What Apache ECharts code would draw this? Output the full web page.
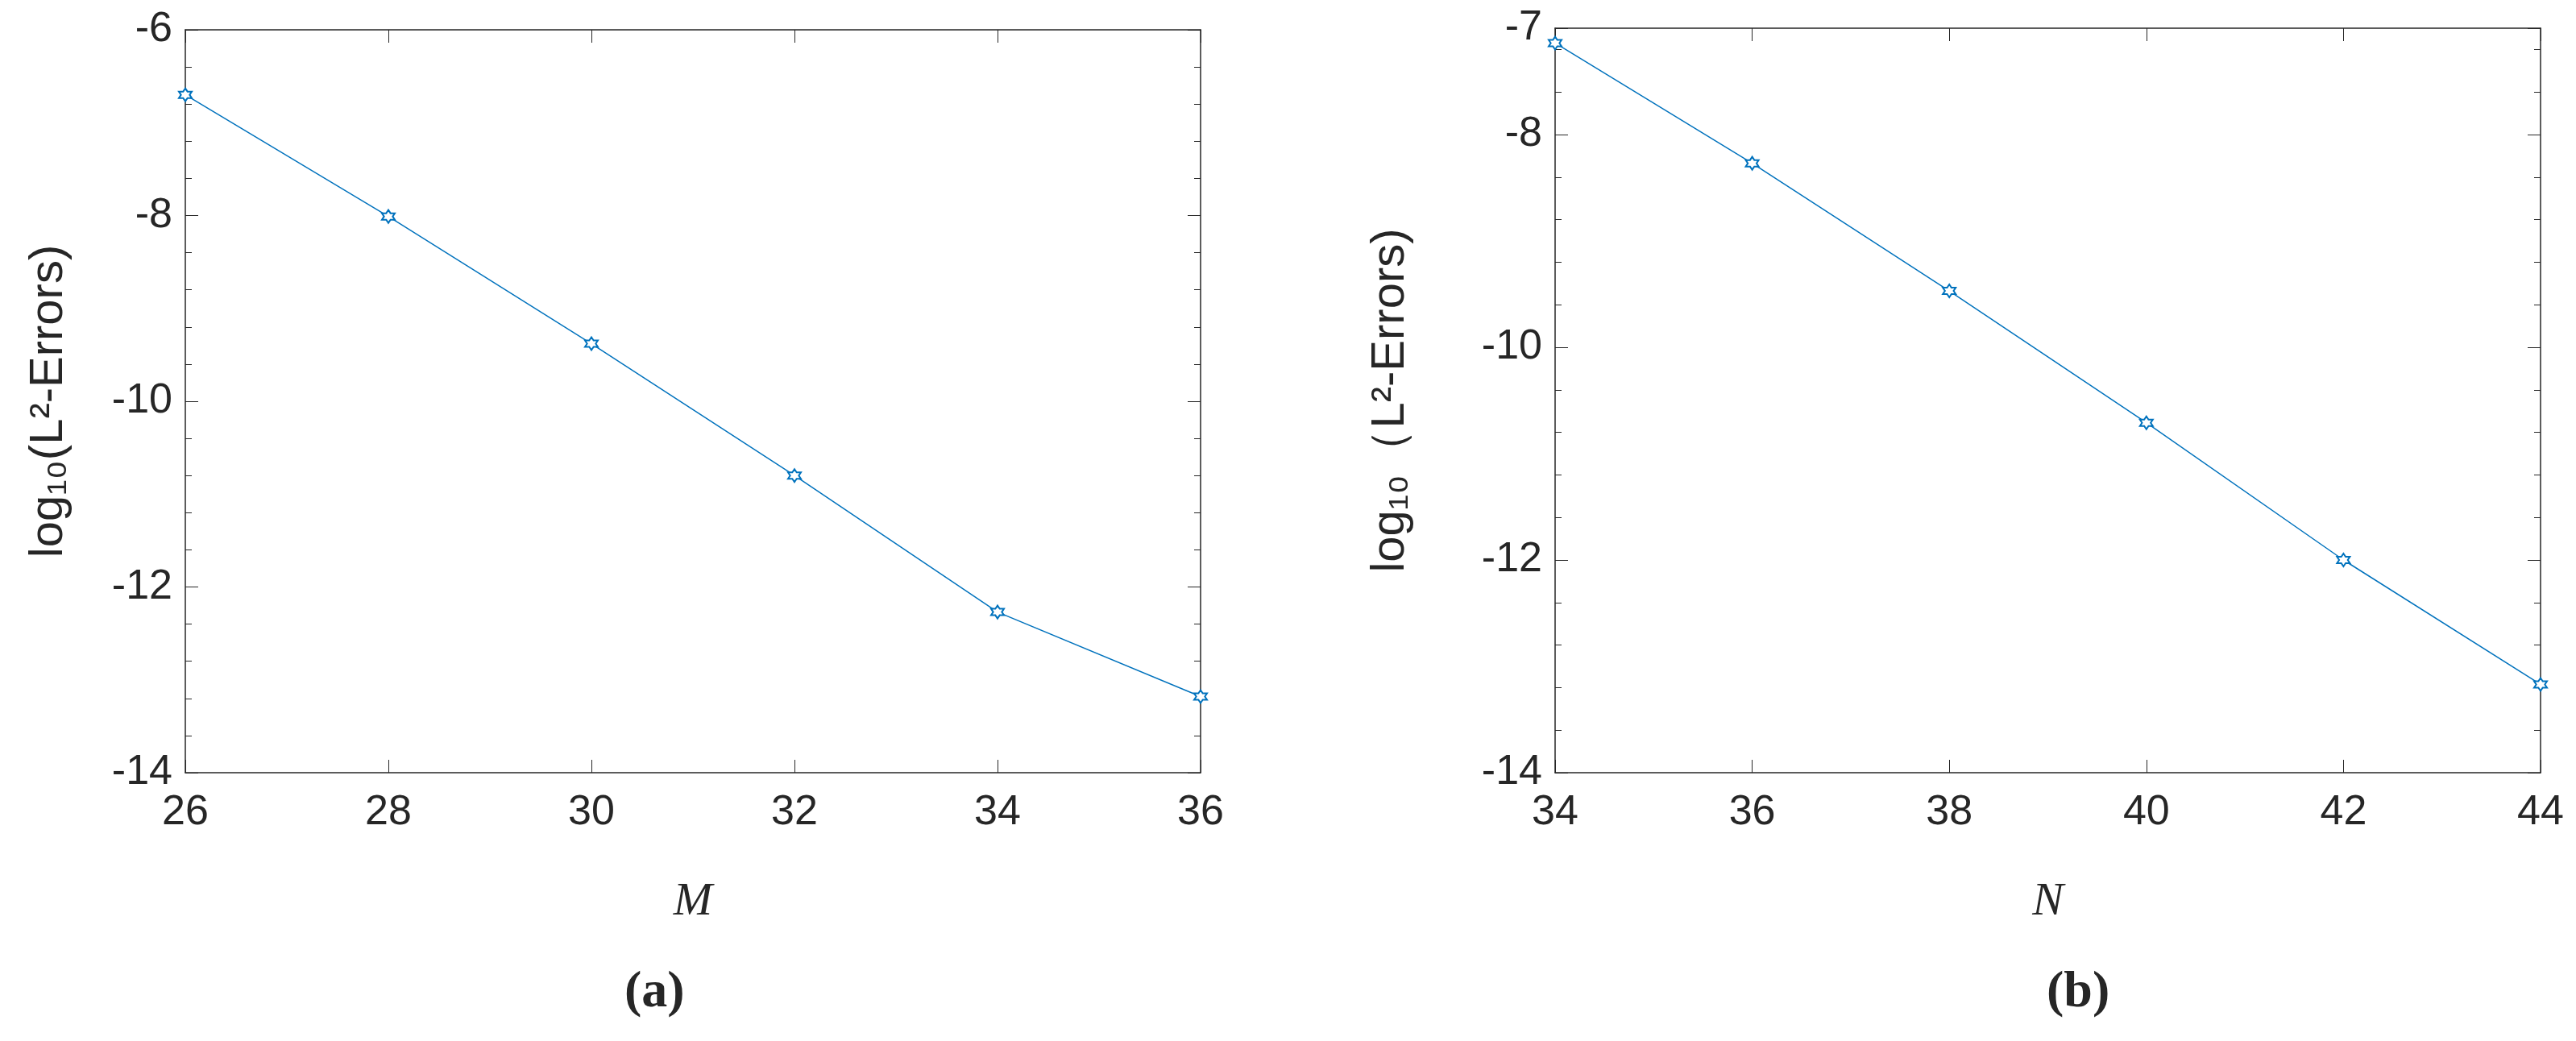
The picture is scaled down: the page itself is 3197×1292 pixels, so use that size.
<!DOCTYPE html><html><head><meta charset="utf-8">
<script src="https://cdn.jsdelivr.net/npm/echarts@6/dist/echarts.min.js"></script>
<style>html,body{margin:0;background:#fff}#c{width:3197px;height:1292px}</style></head><body><div id="c"></div>
<script>
const xA = [26, 28, 30, 32, 34, 36];
const yA = [-6.70, -8.01, -9.38, -10.80, -12.27, -13.18];
const xB = [34, 36, 38, 40, 42, 44];
const yB = [-7.14, -8.27, -9.47, -10.71, -12.00, -13.17];
const star = 'path://M0,-10L2.9,-5L8.66,-5L5.8,0L8.66,5L2.9,5L0,10L-2.9,5L-8.66,5L-5.8,0L-8.66,-5L-2.9,-5Z';
const blue = '#0072BD', txt = '#262626', ax = '#262626';
const font = 'Liberation Sans';
function xa(i, min, max, name, show) {
  return {type:'value', gridIndex:i, min, max, interval:2, position: show?'bottom':'top',
    name: show?name:'', nameLocation:'middle', nameGap:132,
    nameTextStyle:{fontFamily:'Liberation Serif', fontStyle:'italic', fontSize:58, color:txt},
    axisLine:{show:true, onZero:false, lineStyle:{color:ax, width:1.5}},
    axisTick:{show:true, inside:true, length:16, lineStyle:{color:ax}},
    axisLabel:{show:show, fontFamily:font, fontSize:52, color:txt, margin:24},
    splitLine:{show:false}};
}
function ya(i, min, max, name, show, gap) {
  return {type:'value', gridIndex:i, min, max, interval:2, position: show?'left':'right',
    name: show?name:'', nameLocation:'middle', nameGap:gap, nameRotate:90,
    nameTextStyle:{fontFamily:font, fontSize:58, color:txt},
    axisLine:{show:true, onZero:false, lineStyle:{color:ax, width:1.5}},
    axisTick:{show:true, inside:true, length:16, lineStyle:{color:ax}},
    minorTick:{show:true, splitNumber:5, length:8, lineStyle:{color:ax}},
    axisLabel:{show:show, fontFamily:font, fontSize:52, color:txt, margin:16},
    splitLine:{show:false}};
}
const chart = echarts.init(document.getElementById('c'));
chart.setOption({
  backgroundColor:'#fff', animation:false,
  grid:[{left:230, top:37, width:1260, height:922},{left:1930, top:35, width:1223, height:924}],
  xAxis:[xa(0,26,36,'M',true), xa(0,26,36,'',false), xa(1,34,44,'N',true), xa(1,34,44,'',false)],
  yAxis:[ya(0,-14,-6,'log₁₀(L²-Errors)',true,140), ya(0,-14,-6,'',false,0),
         ya(1,-14,-7,'log₁₀（L²-Errors)',true,175), ya(1,-14,-7,'',false,0)],
  graphic:[
    {type:'text', left:775, top:1200, style:{text:'(a)', font:'bold 64px "Liberation Serif"', fill:txt}},
    {type:'text', left:2540, top:1200, style:{text:'(b)', font:'bold 64px "Liberation Serif"', fill:txt}}
  ],
  series:[
    {type:'line', xAxisIndex:0, yAxisIndex:0, data:xA.map((x,i)=>[x,yA[i]]), symbol:star, symbolSize:16,
     lineStyle:{color:blue, width:1.5}, itemStyle:{color:'#fff', borderColor:blue, borderWidth:2}},
    {type:'line', xAxisIndex:2, yAxisIndex:2, data:xB.map((x,i)=>[x,yB[i]]), symbol:star, symbolSize:16,
     lineStyle:{color:blue, width:1.5}, itemStyle:{color:'#fff', borderColor:blue, borderWidth:2}}
  ]
});
</script></body></html>
